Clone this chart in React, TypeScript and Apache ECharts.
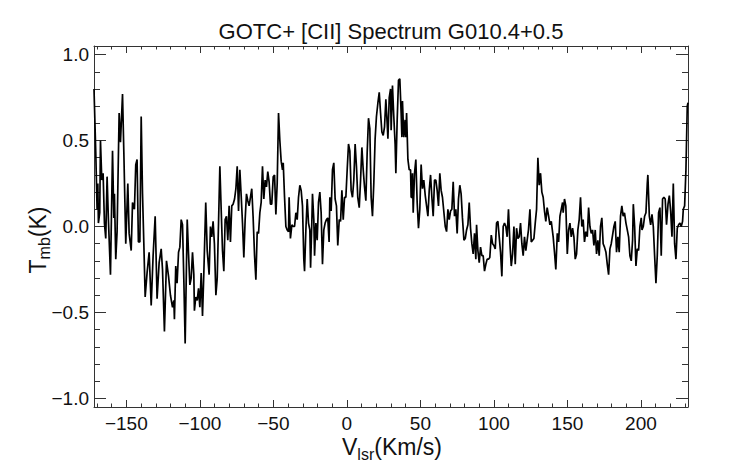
import React, { useEffect, useRef } from "react";
import * as echarts from "echarts";

const chartTitle = "GOTC+ [CII] Spectrum G010.4+0.5";
const xTitleParts = ["V", "lsr", "(Km/s)"];
const yTitleParts = ["T", "mb", "(K)"];
const xRange = [-172, 232];
const yRange = [-1.05, 1.05];

// LSR velocity (km/s)
const velocityKms = [
  -172.0, -170.8, -169.9, -169.4, -169.0, -168.1, -167.6, -166.7, -165.8, -164.9,
  -164.0, -163.1, -162.2, -160.8, -159.4, -158.5, -158.1, -157.2, -156.3, -154.9,
  -154.0, -152.6, -151.7, -150.4, -149.0, -148.1, -146.7, -145.8, -144.5, -143.6,
  -142.7, -141.8, -140.8, -139.9, -139.0, -138.1, -137.2, -135.9, -134.5, -133.1,
  -131.8, -130.4, -129.1, -127.7, -126.3, -125.4, -124.1, -122.7, -121.3, -120.0,
  -118.6, -117.7, -117.3, -116.4, -115.5, -114.5, -113.6, -112.7, -111.8, -110.9,
  -110.0, -108.6, -107.7, -106.8, -105.9, -105.0, -104.1, -103.7, -102.8, -101.8,
  -100.9, -100.0, -99.1, -98.2, -97.3, -96.0, -95.0, -93.7, -92.8, -91.9,
  -91.0, -90.1, -89.1, -88.2, -87.3, -86.4, -85.5, -84.6, -83.7, -82.8,
  -81.9, -81.0, -80.1, -79.2, -78.3, -77.4, -76.4, -75.5, -74.6, -73.7,
  -72.8, -71.9, -71.0, -70.1, -69.2, -68.3,
  -67.4, -66.5, -65.6, -64.7, -63.8, -62.8, -61.9, -61.0, -60.1, -59.2,
  -58.3, -57.4, -56.5, -55.6, -54.7, -53.8, -52.9, -52.0, -51.1, -50.1,
  -49.2, -48.3, -47.4, -46.5, -45.6, -44.7, -43.8, -43.3, -42.4, -41.5,
  -40.6, -39.7, -39.3, -38.4, -37.4, -36.5, -35.6, -34.7, -33.8, -32.9,
  -32.0, -31.1, -30.2, -29.3, -28.8, -27.9, -27.0, -26.1, -25.2, -24.7,
  -23.8, -23.4, -22.5, -22.0, -21.1, -20.2, -19.3, -18.4, -17.5, -16.6,
  -15.7, -14.8, -13.9, -13.0, -12.1, -11.6, -10.7, -9.8, -8.9, -8.0,
  -7.1, -6.2, -5.2, -4.3, -3.4, -2.5, -1.6, -0.7, 0.2, 1.1,
  2.0, 2.9, 3.8, 4.7, 5.6, 6.5, 7.4, 8.4, 9.3, 10.2,
  11.1, 12.0, 12.9, 13.8, 14.7, 15.6, 16.5, 17.4, 18.3, 19.2,
  20.1, 21.1, 22.0, 22.9, 23.8, 24.7, 25.6, 26.5, 27.4, 27.9,
  28.8, 29.7, 30.1, 31.0, 31.9, 32.8, 33.3, 34.2, 35.1, 36.0,
  36.9, 37.4, 37.8, 38.7, 39.6, 40.1, 40.6, 41.5, 42.4, 43.3,
  43.7, 44.2, 44.6, 45.1, 46.0, 46.9, 47.8, 48.7, 49.6, 50.5,
  51.4, 52.3, 53.3, 54.2, 55.1, 56.0, 56.9, 57.8, 58.7, 59.6,
  60.5, 61.4, 62.3, 63.2, 64.1, 65.0, 66.0, 66.9, 67.8, 68.7,
  69.6, 70.5, 71.4, 72.3, 73.2, 74.1, 75.0, 75.9, 76.8, 77.7,
  78.6, 79.6, 80.5, 81.4, 82.3, 83.2, 84.1, 85.0, 85.9, 86.8,
  87.7,
  88.2, 89.1, 90.0, 90.9, 91.8, 92.7, 93.6, 94.5, 95.4, 96.3,
  97.2, 98.2, 99.1, 100.0, 100.9, 101.8, 102.7, 103.6, 104.5, 105.4,
  106.3, 107.2, 108.1, 109.0, 109.9, 110.9, 111.8, 112.7, 113.6, 114.5,
  115.4, 116.3, 117.2, 118.1, 119.0, 119.9, 120.8, 121.7, 122.6, 123.5,
  124.5, 125.4, 126.3, 127.2, 128.1, 129.0, 129.9, 130.8, 131.7, 132.6,
  133.5, 134.4, 135.3, 136.2, 137.2, 138.1, 139.0,
  140.3, 141.2, 142.1, 143.1, 144.0, 144.9, 145.8, 146.7, 147.1, 148.0,
  148.9, 149.9, 150.8, 151.7, 152.6, 153.5, 154.4, 155.3, 156.2, 157.1,
  158.0, 158.9, 159.8, 160.7, 161.6, 162.5, 163.5, 164.4, 165.3, 166.2,
  167.1, 168.0, 168.9, 169.8, 170.7, 171.6, 172.5, 173.4, 174.3, 175.2,
  176.2, 177.1, 178.0, 178.9, 179.8, 180.7, 181.6, 182.5, 183.4, 184.3,
  185.2, 186.1, 187.0, 187.9, 188.8, 189.8, 190.7,
  191.6, 192.5, 193.4, 194.3, 194.8, 195.7, 196.6, 197.5, 198.4, 199.3,
  200.2, 200.7, 201.6, 202.5, 203.4, 204.3, 204.7, 205.7, 206.6, 207.5,
  208.4, 209.3, 210.2, 211.1, 212.0, 212.9, 213.8, 214.7, 215.6, 216.5,
  217.4, 218.4, 219.3, 220.2, 221.1, 222.0, 222.9, 223.8, 224.7, 225.6,
  226.5, 227.4, 228.3, 228.8, 229.7, 230.6, 231.5, 232.0,
];

// Main-beam temperature (K)
const tmbK = [
  0.80, 0.43, 0.10, 0.25, 0.02, 0.08, 0.50, 0.27, 0.31, 0.02,
  -0.07, 0.29, 0.04, -0.28, 0.44, 0.05, 0.19, -0.19, -0.03, 0.66,
  0.49, 0.77, 0.43, -0.10, 0.25, -0.04, -0.14, 0.14, 0.10, 0.36,
  0.39, -0.09, -0.09, 0.64, 0.19, -0.10, -0.41, -0.27, -0.15, -0.46,
  -0.17, 0.06, -0.42, -0.21, -0.13, -0.25, -0.61, -0.20, -0.29, -0.40,
  -0.47, -0.43, -0.54, -0.23, -0.33, -0.15, -0.12, 0.04, 0.01, -0.31,
  -0.68, 0.04, -0.16, -0.34, -0.30, -0.15, -0.28, -0.49, -0.41, -0.43,
  -0.36, -0.47, -0.27, -0.52, -0.27, 0.14, -0.14, -0.28, 0.00, -0.06,
  0.03, -0.10, -0.40, -0.30, 0.02, 0.35, 0.10, -0.14, -0.26, 0.04,
  0.06, -0.08, 0.12, -0.09, 0.12, 0.13, 0.16, 0.22, 0.35, 0.09,
  0.33, 0.18, 0.02, -0.18, 0.04, 0.19,
  0.15, 0.12, 0.17, 0.22, 0.06, -0.17, -0.31, -0.03, -0.04, 0.08,
  0.14, 0.35, 0.16, 0.27, 0.23, 0.32, 0.26, 0.13, 0.13, 0.29,
  0.30, 0.07, 0.25, 0.66, 0.50, 0.38, 0.33, 0.37, 0.17, 0.00,
  -0.02, -0.03, 0.17, -0.07, 0.01, 0.00, 0.00, 0.08, 0.04, 0.17,
  0.24, 0.21, 0.12, -0.19, -0.26, -0.02, 0.16, 0.02, -0.02, -0.24,
  0.04, 0.19, 0.04, -0.17, 0.02, -0.08, 0.14, 0.20, 0.08, -0.22,
  -0.02, 0.02, 0.04, 0.05, -0.09, 0.17, 0.09, 0.33, 0.37, 0.16,
  0.12, -0.11, 0.04, 0.03, 0.21, 0.04, 0.17, 0.17, 0.33, 0.48,
  0.44, 0.21, 0.17, 0.27, 0.48, 0.35, 0.17, 0.11, 0.27, 0.46,
  0.33, 0.23, 0.15, 0.43, 0.63, 0.57, 0.17, 0.06, 0.25, 0.51,
  0.64, 0.72, 0.78, 0.66, 0.55, 0.53, 0.58, 0.74, 0.60, 0.51,
  0.75, 0.80, 0.56, 0.82, 0.64, 0.48, 0.31, 0.62, 0.85, 0.86,
  0.66, 0.52, 0.73, 0.52, 0.62, 0.52, 0.66, 0.39, 0.33, 0.33,
  0.17, 0.17, 0.31, 0.08, 0.31, 0.39, 0.14, -0.01, 0.10, 0.36,
  0.22, 0.27, 0.18, 0.12, 0.06, 0.21, 0.30, 0.17, 0.06, 0.27,
  0.27, 0.21, 0.12, 0.31, 0.21, 0.17, 0.08, 0.00, -0.03, 0.10,
  0.04, 0.09, 0.10, 0.26, 0.06, 0.10, -0.04, 0.16, 0.24, 0.19,
  0.05, -0.08, -0.07, -0.02, 0.01, 0.14, -0.01, -0.10, -0.16, -0.04,
  -0.19,
  0.01, -0.14, -0.21, -0.12, -0.17, -0.17, -0.26, -0.22, -0.19, -0.19,
  -0.18, -0.05, -0.10, -0.11, -0.13, 0.02, 0.03, -0.06, -0.15, -0.29,
  0.00, 0.02, 0.00, -0.06, 0.10, -0.10, -0.23, -0.16, 0.00, -0.22,
  -0.01, -0.07, -0.06, 0.02, -0.10, -0.17, -0.06, -0.14, -0.08, -0.02,
  0.10, -0.09, -0.08, -0.07, 0.02, 0.10, 0.40, 0.24, 0.31, 0.20,
  0.17, 0.09, 0.03, 0.11, 0.06, 0.01, 0.03,
  -0.06, -0.15, -0.25, -0.04, -0.09, 0.06, 0.10, 0.14, 0.08, 0.16,
  0.12, -0.16, -0.02, 0.02, -0.06, -0.01, -0.06, -0.19, -0.16, -0.02,
  0.04, 0.17, 0.00, 0.04, -0.09, -0.03, -0.06, 0.11, 0.00, -0.04,
  -0.02, -0.11, -0.02, -0.16, -0.08, -0.17, 0.00, 0.05, -0.10, -0.12,
  -0.15, -0.22, -0.28, -0.13, -0.10, -0.05, 0.00, 0.03, -0.15, -0.06,
  -0.15, 0.06, 0.12, 0.06, 0.08, 0.02, -0.02,
  -0.06, -0.17, -0.20, -0.08, 0.13, 0.00, -0.23, -0.13, -0.14, 0.00,
  0.05, -0.02, 0.00, 0.06, 0.08, 0.25, 0.30, 0.06, 0.01, 0.07,
  0.00, -0.17, -0.33, -0.17, 0.08, 0.11, -0.17, 0.16, 0.17, 0.16,
  0.01, 0.13, 0.18, 0.09, -0.06, 0.25, -0.10, -0.19, -0.01, 0.01,
  0.02, 0.00, 0.03, 0.10, 0.12, 0.33, 0.70, 0.72,
];

const FONT = "'Liberation Sans', Arial, Helvetica, sans-serif";
const AXIS_COLOR = "#333";
const TEXT_COLOR = "#111";
const minus = (s: string) => s.replace("-", "\u2212");

function measure(text: string, size: number): number {
  const c = document.createElement("canvas").getContext("2d");
  if (!c) return text.length * size * 0.55;
  c.font = `${size}px ${FONT}`;
  return c.measureText(text).width;
}

// Builds [main, subscript, main] texts laid out along local x, baseline at local y = 0
function subscriptTexts(parts: string[], size: number, subSize: number, subDrop: number) {
  const w0 = measure(parts[0], size);
  const w1 = measure(parts[1], subSize);
  const w2 = measure(parts[2], size);
  const start = -(w0 + w1 + w2) / 2;
  const mk = (text: string, x: number, fs: number, baseline: number) => ({
    type: "text",
    x,
    y: baseline - 0.3465 * fs,
    style: {
      text,
      fontFamily: FONT,
      fontSize: fs,
      fill: TEXT_COLOR,
      align: "left",
      verticalAlign: "middle",
    },
  });
  return [
    mk(parts[0], start, size, 0),
    mk(parts[1], start + w0, subSize, subDrop),
    mk(parts[2], start + w0 + w1, size, 0),
  ];
}

export default function App() {
  const ref = useRef<HTMLDivElement>(null);

  useEffect(() => {
    if (!ref.current) return;
    const chart = echarts.init(ref.current, null, { renderer: "svg" });
    const n = Math.min(velocityKms.length, tmbK.length);
    const data: [number, number][] = [];
    for (let i = 0; i < n; i++) data.push([velocityKms[i], tmbK[i]]);

    const lineStyle = { color: AXIS_COLOR, width: 1 };
    const xCommon = {
      type: "value" as const,
      min: xRange[0],
      max: xRange[1],
      splitNumber: 8,
      axisLine: { show: true, onZero: false, lineStyle },
      axisTick: { show: true, inside: true, length: 7, lineStyle },
      minorTick: { show: true, splitNumber: 5, length: 3.5, lineStyle },
      splitLine: { show: false },
      minorSplitLine: { show: false },
    };
    const yCommon = {
      type: "value" as const,
      min: yRange[0],
      max: yRange[1],
      splitNumber: 4,
      axisLine: { show: true, onZero: false, lineStyle },
      axisTick: { show: true, inside: true, length: 12, lineStyle },
      minorTick: { show: true, splitNumber: 5, length: 6, lineStyle },
      splitLine: { show: false },
      minorSplitLine: { show: false },
    };

    const titleSize = 23;
    const subSize = 16;

    chart.setOption({
      animation: false,
      backgroundColor: "#fff",
      grid: { left: 94, right: 54, top: 46, bottom: 57, containLabel: false },
      xAxis: [
        {
          ...xCommon,
          position: "bottom",
          axisLabel: {
            show: true,
            showMinLabel: false,
            showMaxLabel: false,
            margin: 7,
            fontSize: 19,
            fontFamily: FONT,
            color: TEXT_COLOR,
            formatter: (v: number) => minus(String(Math.round(v))),
          },
        },
        { ...xCommon, position: "top", axisLabel: { show: false } },
      ],
      yAxis: [
        {
          ...yCommon,
          position: "left",
          axisLabel: {
            show: true,
            showMinLabel: false,
            showMaxLabel: false,
            margin: 5,
            fontSize: 19,
            fontFamily: FONT,
            color: TEXT_COLOR,
            formatter: (v: number) => minus(v.toFixed(1)),
          },
        },
        { ...yCommon, position: "right", axisLabel: { show: false } },
      ],
      graphic: [
        {
          type: "text",
          x: 391,
          y: 31,
          style: {
            text: chartTitle,
            fontFamily: FONT,
            fontSize: 22,
            fill: TEXT_COLOR,
            align: "center",
            verticalAlign: "middle",
          },
        },
        {
          type: "group",
          x: 392,
          y: 455,
          children: subscriptTexts(xTitleParts, titleSize, subSize, 5),
        },
        {
          type: "group",
          x: 45.5,
          y: 240,
          rotation: Math.PI / 2,
          children: subscriptTexts(yTitleParts, titleSize, subSize, 5),
        },
      ],
      series: [
        {
          type: "line",
          data,
          xAxisIndex: 0,
          yAxisIndex: 0,
          showSymbol: false,
          symbol: "none",
          lineStyle: { color: "#000", width: 1.7 },
          clip: true,
        },
      ],
    });
    return () => chart.dispose();
  }, []);

  return (
    <div
      ref={ref}
      style={{ position: "fixed", left: 0, top: 0, width: 742, height: 464, background: "#fff" }}
    />
  );
}
